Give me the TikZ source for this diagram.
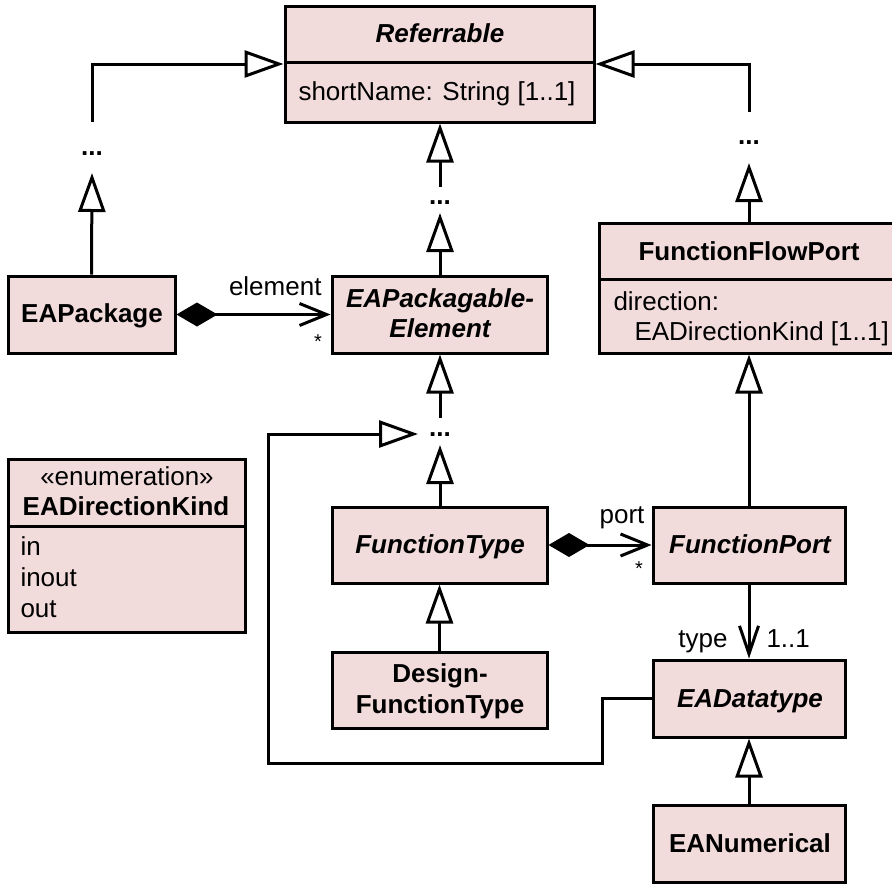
\documentclass[tikz,border=0pt]{standalone}
\usepackage{fontspec}
\setmainfont{Liberation Sans}
\usetikzlibrary{arrows.meta,calc}
\definecolor{cls}{RGB}{242,220,219}
\begin{document}
\begin{tikzpicture}[x=1pt,y=-1pt,line width=3pt,
  every node/.style={font=\fontsize{26}{30}\selectfont},
  box/.style={draw,fill=cls,inner sep=0pt,line width=3pt},
  txt/.style={inner sep=0pt,anchor=base},
  ltxt/.style={inner sep=0pt,anchor=base west},
  rtxt/.style={inner sep=0pt,anchor=base east},
  bf/.style={font=\fontsize{26}{30}\selectfont\bfseries},
  bfit/.style={font=\fontsize{26}{30}\selectfont\bfseries\itshape},
  gen/.style={-{Triangle[open,length=39pt,width=27pt]}},
  comp/.style={{Diamond[length=41pt,width=24pt]}-{Straight Barb[length=27pt,width=22pt]}},
  assoc/.style={-{Straight Barb[length=28pt,width=19pt]}}]
\useasboundingbox (0,0) rectangle (892,884);

% boxes
\node[box,minimum width=309pt,minimum height=116pt] (ref) at (439.5,64) {};
\node[box,minimum width=167pt,minimum height=77pt] (pkg) at (91.5,314.5) {};
\node[box,minimum width=215pt,minimum height=77pt] (pe) at (439.5,314.5) {};
\node[box,minimum width=297pt,minimum height=130pt] (ffp) at (747.5,288) {};
\node[box,minimum width=237pt,minimum height=173pt] (enum) at (126.5,545.5) {};
\node[box,minimum width=215pt,minimum height=76pt] (ft) at (439.5,545) {};
\node[box,minimum width=215pt,minimum height=76pt] (dft) at (439.5,690) {};
\node[box,minimum width=192pt,minimum height=76pt] (fp) at (749,545) {};
\node[box,minimum width=192pt,minimum height=77pt] (dt) at (749,698.5) {};
\node[box,minimum width=192pt,minimum height=77pt] (num) at (749,843.5) {};

% compartment dividers
\draw (ref.west |- 0,62) -- (ref.east |- 0,62);
\draw (ffp.west |- 0,279) -- (ffp.east |- 0,279);
\draw (enum.west |- 0,526) -- (enum.east |- 0,526);

% texts
\node[txt,bfit] (tref) at (440,42) {Referrable};
\node[ltxt] (aref) at (297,100) {shortName: String [1..1]};
\node[txt,bf] (tpkg) at (92,322) {EAPackage};
\node[txt,bfit] (tpe1) at (440,307) {EAPackagable-};
\node[txt,bfit] (tpe2) at (440,337) {Element};
\node[txt,bf] (tffp) at (749,260) {FunctionFlowPort};
\node[ltxt] (affp1) at (612,310) {direction:};
\node[ltxt] (affp2) at (633,340) {EADirectionKind [1..1]};
\node[txt] (senum) at (127,485) {«enumeration»};
\node[txt,bf] (tenum) at (126,515) {EADirectionKind};
\node[ltxt] (lit1) at (19,555) {in};
\node[ltxt] (lit2) at (19,586) {inout};
\node[ltxt] (lit3) at (19,617) {out};
\node[txt,bfit] (tft) at (440,553) {FunctionType};
\node[txt,bf] (tdft1) at (440,682) {Design-};
\node[txt,bf] (tdft2) at (440,713) {FunctionType};
\node[txt,bfit] (tfp) at (750,553) {FunctionPort};
\node[txt,bfit] (tdt) at (750,707) {EADatatype};
\node[txt,bf] (tnum) at (750,852) {EANumerical};

% ellipsis placeholders
\node[txt,bf] (d1) at (92,155) {...};
\node[txt,bf] (d2) at (440,204) {...};
\node[txt,bf] (d3) at (749,144) {...};
\node[txt,bf] (d4) at (440,436) {...};
\coordinate (d1t) at (92,122);
\coordinate (d1b) at (92,173);
\coordinate (d2t) at (440,187);
\coordinate (d2b) at (440,213);
\coordinate (d3t) at (749,112);
\coordinate (d3b) at (749,163);
\coordinate (d4t) at (440,418);
\coordinate (d4b) at (440,445);
\coordinate (d4w) at (418,434);

% generalizations
\draw[gen] (d1t) |- (ref.west);
\draw[gen] (pkg.north) -- (d1b);
\draw[gen] (d2t) -- (d2t |- ref.south);
\draw[gen] (pe.north -| d2b) -- (d2b);
\draw[gen] (d3t) |- (ref.east);
\draw[gen] (fp.north |- ffp.north) -- (d3b);
\draw[gen] (d4t) -- (d4t |- pe.south);
\draw[gen] (ft.north -| d4b) -- (d4b);
\draw[gen] (dft.north) -- (ft.south);
\draw[gen] (fp.north) -- (fp.north |- ffp.south);
\draw[gen] (num.north) -- (dt.south);
\draw[gen] (dt.west) -- (602,698.5) |- (268,763) |- (d4w);

% compositions
\draw[comp] (pkg.east) -- (pe.west);
\node[rtxt] (lel) at (323,295) {element};
\node[txt,font=\fontsize{20}{24}\selectfont] (mel) at (318,348) {*};
\draw[comp] (ft.east) -- (fp.west);
\node[txt] (lport) at (622,523) {port};
\node[txt,font=\fontsize{20}{24}\selectfont] (mport) at (639,575) {*};

% association
\draw[assoc] (fp.south) -- (dt.north);
\node[rtxt] (ltype) at (729,647) {type};
\node[ltxt] (mtype) at (765,647) {1..1};
\end{tikzpicture}
\end{document}
